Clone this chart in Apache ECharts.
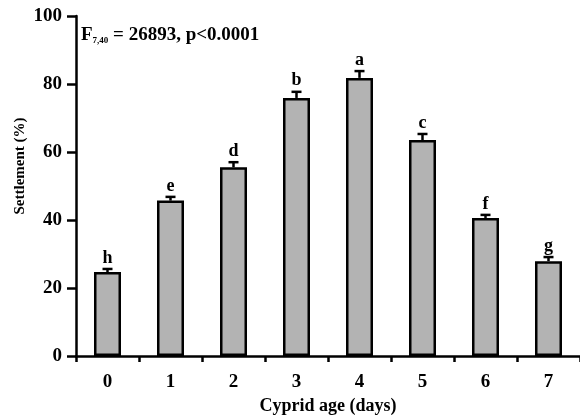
<!DOCTYPE html>
<html>
<head>
<meta charset="utf-8">
<script src="https://cdn.jsdelivr.net/npm/echarts@6/dist/echarts.min.js"></script>
<style>
  html, body { margin: 0; padding: 0; background: #fff; }
  #chart { width: 580px; height: 417px; }
</style>
</head>
<body>
<div id="chart"></div>
<script>
  const categories = ['0', '1', '2', '3', '4', '5', '6', '7']
  const settlement = [24.7, 45.7, 55.5, 75.9, 81.8, 63.5, 40.6, 27.9]
  const errors = [0.9, 1.1, 1.5, 1.8, 2.0, 1.8, 0.9, 1.2]
  const letters = ['h', 'e', 'd', 'b', 'a', 'c', 'f', 'g']

  const serif = '"Liberation Serif", "DejaVu Serif", serif'
  const chart = echarts.init(document.getElementById('chart'))

  const option = {
    animation: false,
    grid: { left: 76, right: 0, top: 16, bottom: 61, containLabel: false, outerBoundsMode: 'none' },
    xAxis: {
      type: 'category',
      data: categories,
      axisLine: { lineStyle: { color: '#000', width: 2.5 } },
      axisTick: { show: true, length: 6, lineStyle: { color: '#000', width: 2.5 } },
      axisLabel: { color: '#000', fontFamily: serif, fontWeight: 'bold', fontSize: 19, margin: 17 },
      name: 'Cyprid age (days)',
      nameLocation: 'middle',
      nameGap: 40,
      nameTextStyle: { color: '#000', fontFamily: serif, fontWeight: 'bold', fontSize: 18 },
    },
    yAxis: {
      type: 'value',
      min: 0,
      max: 100,
      interval: 20,
      axisLine: { show: true, lineStyle: { color: '#000', width: 2.5 } },
      axisTick: { show: true, length: 9, lineStyle: { color: '#000', width: 2.5 } },
      axisLabel: { color: '#000', fontFamily: serif, fontWeight: 'bold', fontSize: 19, margin: 14 },
      splitLine: { show: false },
    },
    series: [
      {
        type: 'bar',
        data: settlement,
        barWidth: 27,
        itemStyle: { color: '#b3b3b3', borderColor: '#000', borderWidth: 2.5 },
      },
      {
        type: 'custom',
        data: settlement.map((v, i) => [i, v, errors[i], letters[i]]),
        z: 3,
        renderItem: (params, api) => {
          const x = api.value(0)
          const top = api.coord([x, api.value(1)])
          const hi = api.coord([x, api.value(1) + api.value(2)])
          const half = 5
          const style = { stroke: '#000', lineWidth: 2.5 }
          return {
            type: 'group',
            children: [
              { type: 'line', shape: { x1: top[0], y1: top[1], x2: hi[0], y2: hi[1] }, style },
              { type: 'line', shape: { x1: hi[0] - half, y1: hi[1], x2: hi[0] + half, y2: hi[1] }, style },
              {
                type: 'text',
                style: {
                  text: api.value(3),
                  x: hi[0],
                  y: hi[1] - 2,
                  align: 'center',
                  verticalAlign: 'bottom',
                  fill: '#000',
                  font: 'bold 18px ' + serif,
                },
              },
            ],
          }
        },
      },
    ],
    graphic: [
      {
        type: 'text',
        x: 20,
        y: 166,
        rotation: Math.PI / 2,
        style: {
          text: 'Settlement (%)',
          align: 'center',
          verticalAlign: 'middle',
          fill: '#000',
          font: 'bold 15px ' + serif,
        },
      },
      {
        type: 'text',
        left: 81,
        top: 26,
        style: {
          text: '{f|F}{s|7,40}{f| = 26893, p<0.0001}',
          rich: {
            f: { fontFamily: serif, fontWeight: 'bold', fontSize: 19, fill: '#000' },
            s: { fontFamily: serif, fontWeight: 'bold', fontSize: 9, fill: '#000', verticalAlign: 'bottom', padding: [8, 0, 0, 0] },
          },
        },
      },
    ],
  }

  chart.setOption(option)
</script>
</body>
</html>
